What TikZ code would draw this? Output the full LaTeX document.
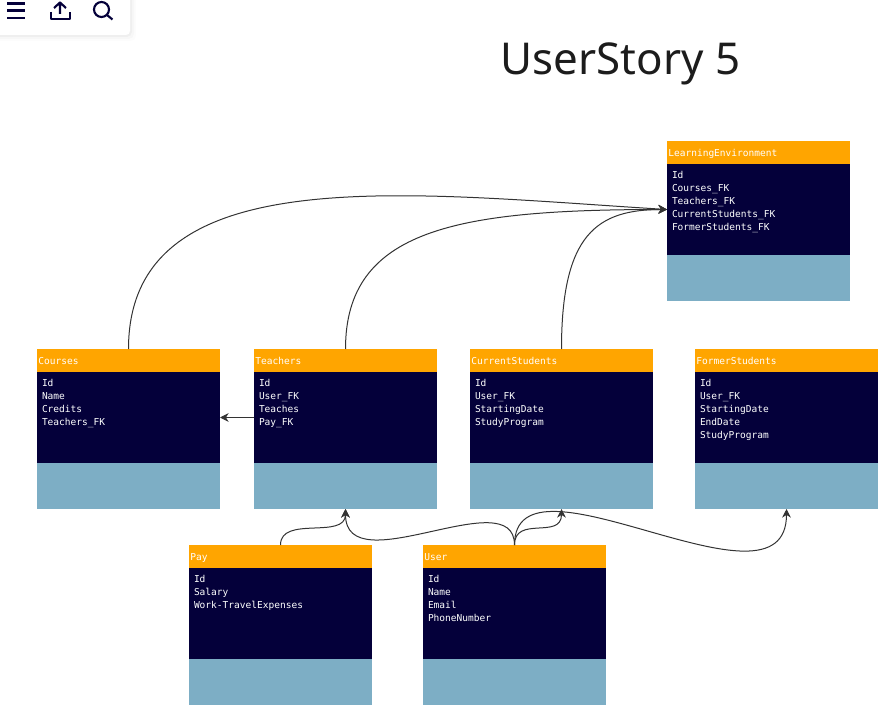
\documentclass[tikz,border=0pt]{standalone}
\usepackage{fontspec}
\setmainfont{Noto Sans}
\newfontfamily\tablefont{DejaVu Sans Mono}
\usetikzlibrary{positioning,arrows.meta}
\definecolor{headorange}{HTML}{FFA500}
\definecolor{bodynavy}{HTML}{04003A}
\definecolor{footblue}{HTML}{7DAEC5}
\definecolor{linegrey}{HTML}{333333}
\definecolor{titlegrey}{HTML}{1C1C1C}
\tikzset{
  headbox/.style={fill=headorange,text=white,anchor=north west,outer sep=0pt,inner xsep=1pt,inner ysep=0pt,
    minimum width=137.25pt,minimum height=17.25pt,text width=135.25pt,text height=7.2pt,text depth=0.5pt,
    font=\tablefont\fontsize{7.15}{9.75}\selectfont},
  bodybox/.style={fill=bodynavy,text=white,outer sep=0pt,inner xsep=3.75pt,inner ysep=0pt,
    text width=129.75pt,font=\tablefont\fontsize{7.15}{9.75}\selectfont},
  footbox/.style={fill=footblue,outer sep=0pt,inner sep=0pt,minimum width=137.25pt,minimum height=34.5pt},
  relation/.style={draw=linegrey,line width=0.75pt,-{Stealth[length=6.5pt,width=6.5pt]}},
  icon/.style={draw=bodynavy,line width=1.6pt}
}
% table: name, x, y, title, rows
\newcommand{\tablebox}[5]{
  \node[headbox] (#1head) at (#2,#3) {#4};
  \node[bodybox,below=0pt of #1head] (#1body) {\parbox[c][68.25pt][t]{129.75pt}{\vspace{5.4pt}\raggedright #5}};
  \node[footbox,below=0pt of #1body] (#1foot) {};
}
\begin{document}
\begin{tikzpicture}[x=0.75pt,y=-0.75pt]
\useasboundingbox (0,0) rectangle (894,724);

\foreach \grow/\shade in {6/1,4/2,2/3}
  \fill[black,opacity=0.0\shade,rounded corners=4pt] (-10,-10) rectangle (130+\grow,35+\grow);
\fill[white,rounded corners=3pt] (-10,-10) rectangle (130,35);
\draw[icon] (7,3.5) -- (25,3.5) (7,10.5) -- (25,10.5) (7,18) -- (25,18);
\draw[icon,line join=round] (51,12) -- (51,19) -- (70,19) -- (70,12);
\draw[icon,line join=round] (60,14) -- (60,2.5) (54,8) -- (60,2.5) -- (66,8);
\draw[icon] (101.5,9.5) circle (7.5);
\draw[icon] (107,15) -- (112.5,19.5);

\node[font=\fontsize{32.9}{40}\selectfont,text=titlegrey,inner sep=0pt] (title) at (620.5,64) {UserStory 5};

\tablebox{env}{667}{141}{LearningEnvironment}{Id\\Courses\_FK\\Teachers\_FK\\CurrentStudents\_FK\\FormerStudents\_FK}
\tablebox{cou}{37}{349}{Courses}{Id\\Name\\Credits\\Teachers\_FK}
\tablebox{tea}{254}{349}{Teachers}{Id\\User\_FK\\Teaches\\Pay\_FK}
\tablebox{cur}{470}{349}{CurrentStudents}{Id\\User\_FK\\StartingDate\\StudyProgram}
\tablebox{for}{695}{349}{FormerStudents}{Id\\User\_FK\\StartingDate\\EndDate\\StudyProgram}
\tablebox{pay}{189}{545}{Pay}{Id\\Salary\\Work-TravelExpenses}
\tablebox{usr}{423}{545}{User}{Id\\Name\\Email\\PhoneNumber}

\draw[relation] (couhead.north) .. controls +(0,-192) and +(-260,-16) .. (envbody.west);
\draw[relation] (teahead.north) .. controls +(0,-120) and +(-210,0) .. (envbody.west);
\draw[relation] (curhead.north) .. controls +(0,-115) and +(-70,0) .. (envbody.west);
\draw[relation] (teabody.west) -- (coubody.east);
\draw[relation] (payhead.north) .. controls +(0,-30) and +(0,31) .. (teafoot.south);
\draw[relation] (usrhead.north) .. controls +(0,-65) and +(0,76) .. (teafoot.south);
\draw[relation] (usrhead.north) .. controls +(0,-30) and +(0,31) .. (curfoot.south);
\draw[relation] (usrhead.north) .. controls +(0,-105) and +(0,116) .. (forfoot.south);
\end{tikzpicture}
\end{document}
